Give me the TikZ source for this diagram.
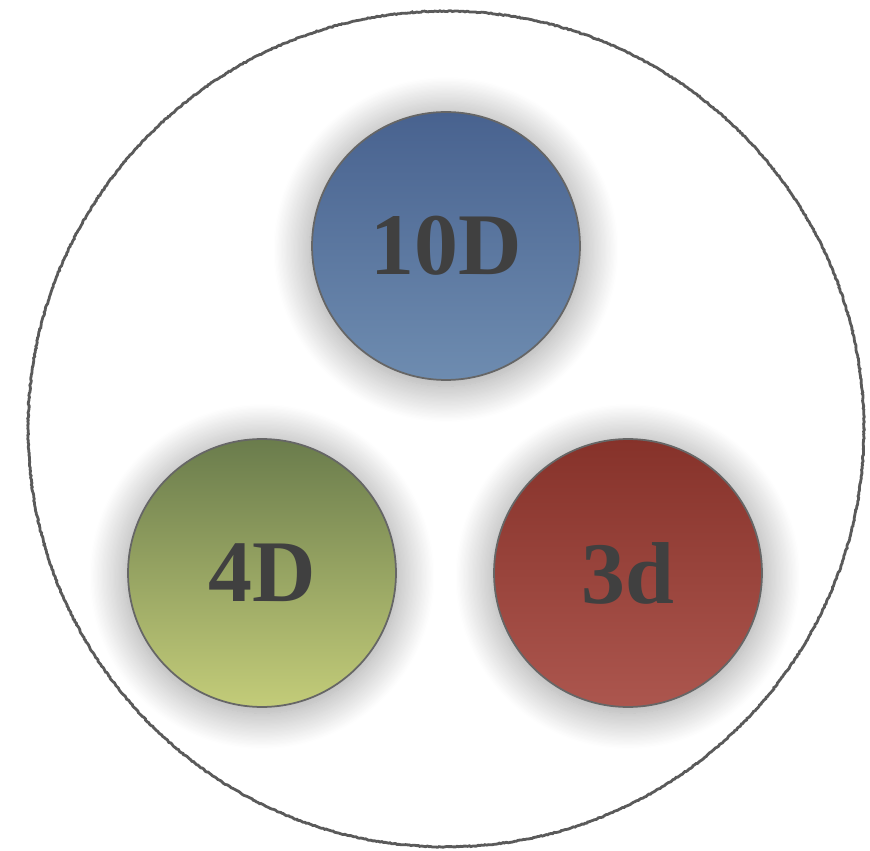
\documentclass[tikz,border=0pt]{standalone}
\usepackage{fontspec}
\setmainfont{Liberation Serif}
\usepackage{tikz}
\usetikzlibrary{shadows.blur}
\usetikzlibrary{decorations.pathmorphing}
\usetikzlibrary{positioning}

\definecolor{label}{HTML}{404040}
\definecolor{edge}{HTML}{666666}
\definecolor{ringedge}{HTML}{5A5A5A}
\definecolor{bluetop}{HTML}{48628F}
\definecolor{bluebot}{HTML}{6E8CB0}
\definecolor{greentop}{HTML}{6A7C4C}
\definecolor{greenbot}{HTML}{C3CC79}
\definecolor{redtop}{HTML}{86322A}
\definecolor{redbot}{HTML}{AC564E}

\begin{document}
\begin{tikzpicture}[
    x=0.02cm, y=-0.02cm,
    every node/.style={font=\fontsize{50}{58}\selectfont\bfseries, text=label},
    ring/.style={circle, draw=ringedge, line width=1.6pt, minimum size=16.72cm,
        decorate, decoration={random steps, segment length=1pt, amplitude=0.3pt}},
    ball/.style={circle, draw=edge, line width=1pt, minimum size=5.36cm,
        blur shadow={shadow xshift=0pt, shadow yshift=-2pt, shadow scale=1.02,
            shadow blur radius=20pt, shadow blur steps=30, shadow opacity=40}}]

\useasboundingbox (0,0) rectangle (870,851);

% Frame
\node[ring] (frame) at (446,429) {};

% Nodes
\node[ball, top color=bluetop, bottom color=bluebot] (tenD) at (446,246) {10D};
\node[ball, top color=greentop, bottom color=greenbot] (fourD) at (262,573) {4D};
\node[ball, top color=redtop, bottom color=redbot] (threeD) at (628,573) {3d};
\end{tikzpicture}
\end{document}
